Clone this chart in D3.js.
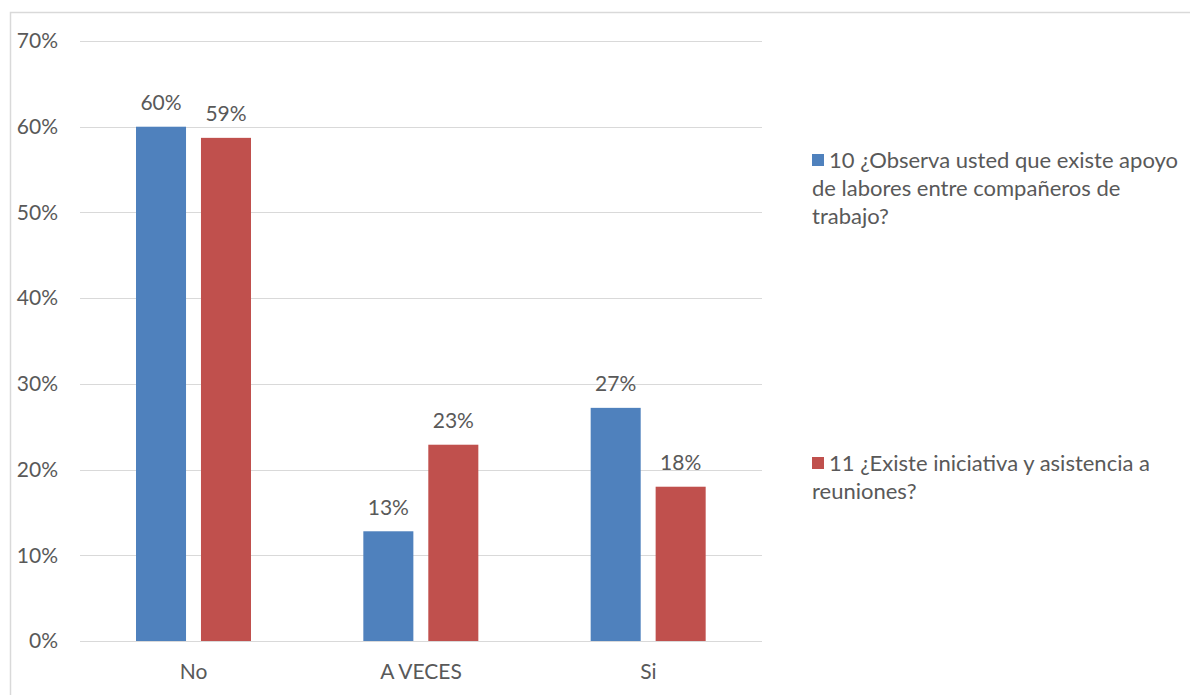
<!DOCTYPE html>
<html>
<head>
<meta charset="utf-8">
<script src="https://cdn.jsdelivr.net/npm/d3@7"></script>
<style>
  body { margin: 0; background: #fff; }
  text { font-family: Lato, "Open Sans", sans-serif; fill: #595959; }
</style>
</head>
<body>
<svg width="1190" height="695"></svg>
<script>
// data
const categories = ["No", "A VECES", "Si"];
const seriesNames = [
  "10 ¿Observa usted que existe apoyo de labores entre compañeros de trabajo?",
  "11 ¿Existe iniciativa y asistencia a reuniones?"
];
const legendLines = [
  ["10 ¿Observa usted que existe apoyo", "de labores entre compañeros de", "trabajo?"],
  ["11 ¿Existe iniciativa y asistencia a", "reuniones?"]
];
const serie10 = [0.60, 0.128, 0.272];
const serie11 = [0.587, 0.229, 0.18];
const yTicks = [0, 0.1, 0.2, 0.3, 0.4, 0.5, 0.6, 0.7];
const colors = ["#4f81bd", "#c0504d"];

const svg = d3.select("svg");

// outer frame
svg.append("rect")
  .attr("x", 10.5).attr("y", 12.5)
  .attr("width", 1200).attr("height", 720)
  .attr("fill", "none").attr("stroke", "#d9d9d9").attr("stroke-width", 1.5);

const plotLeft = 80, plotRight = 762, plotTop = 41, plotBottom = 641;

const x = d3.scaleBand().domain(categories).range([plotLeft, plotRight]);
const x1 = d3.scaleBand().domain([0, 1]).range([56, 171]).paddingInner(0.23);
const y = d3.scaleLinear().domain([0, 0.7]).range([plotBottom, plotTop]);

// gridlines
svg.append("g").selectAll("line")
  .data(yTicks)
  .join("line")
  .attr("x1", plotLeft).attr("x2", plotRight)
  .attr("y1", d => Math.round(y(d)) + 0.5).attr("y2", d => Math.round(y(d)) + 0.5)
  .attr("stroke", "#d9d9d9").attr("stroke-width", 1);

// y labels
svg.append("g").selectAll("text")
  .data(yTicks)
  .join("text")
  .attr("x", 58).attr("y", d => y(d))
  .attr("dy", "0.35em")
  .attr("text-anchor", "end")
  .style("font-size", "21px")
  .text(d => d3.format(".0%")(d));

// bars
const series = [serie10, serie11];
series.forEach(function(vals, s) {
  const g = svg.append("g");
  g.selectAll("rect")
    .data(vals)
    .join("rect")
    .attr("x", (d, i) => x(categories[i]) + x1(s))
    .attr("width", x1.bandwidth())
    .attr("y", d => y(d))
    .attr("height", d => plotBottom - y(d))
    .attr("fill", colors[s]);
  g.selectAll("text")
    .data(vals)
    .join("text")
    .attr("x", (d, i) => x(categories[i]) + x1(s) + x1.bandwidth() / 2)
    .attr("y", d => y(d) - 24)
    .attr("dy", "0.35em")
    .attr("text-anchor", "middle")
    .style("font-size", "21px")
    .text(d => d3.format(".0%")(d));
});

// category labels
svg.append("g").selectAll("text")
  .data(categories)
  .join("text")
  .attr("x", d => x(d) + x.bandwidth() / 2)
  .attr("y", 672)
  .attr("dy", "0.35em")
  .attr("text-anchor", "middle")
  .style("font-size", "21px")
  .text(d => d);

// legend
const legendY = [160, 463];
legendLines.forEach(function(lines, s) {
  const g = svg.append("g").attr("transform", `translate(812,${legendY[s]})`);
  g.append("rect")
    .attr("x", 0).attr("y", -6).attr("width", 12).attr("height", 12)
    .attr("fill", colors[s]);
  g.selectAll("text")
    .data(lines)
    .join("text")
    .attr("x", (d, i) => i === 0 ? 17 : 0)
    .attr("y", (d, i) => i * 28)
    .attr("dy", "0.35em")
    .style("font-size", "22px")
    .text(d => d);
});
</script>
</body>
</html>
